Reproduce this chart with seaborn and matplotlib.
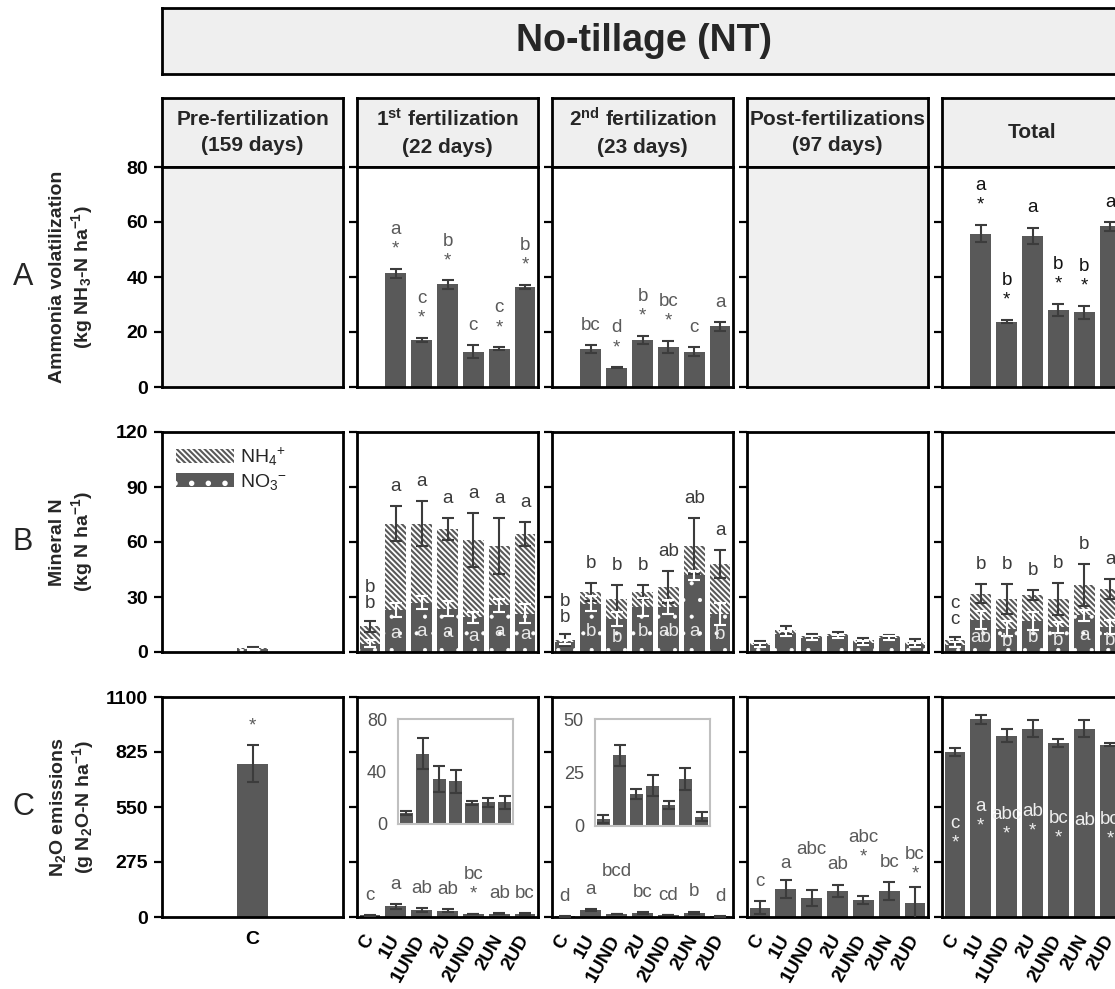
import numpy as np
import pandas as pd
import matplotlib
matplotlib.use("Agg")
import matplotlib.pyplot as plt
from matplotlib.patches import Patch
import seaborn as sns

# ---------------- data ----------------
treatments = ["C", "1U", "1UND", "2U", "2UND", "2UN", "2UD"]
pre_treatments = ["C"]
period_titles = ["Pre-fertilization\n(159 days)", "1$^{st}$ fertilization\n(22 days)",
                 "2$^{nd}$ fertilization\n(23 days)", "Post-fertilizations\n(97 days)", "Total"]
main_title = "No-tillage (NT)"
row_letters = ["A", "B", "C"]
row_ylabels = ["Ammonia volatilization\n(kg NH$_3$-N ha$^{-1}$)",
               "Mineral N\n(kg N ha$^{-1}$)",
               "N$_2$O emissions\n(g N$_2$O-N ha$^{-1}$)"]
yticks_A = [0, 20, 40, 60, 80]
yticks_B = [0, 30, 60, 90, 120]
yticks_C = [0, 275, 550, 825, 1100]
legend_labels = ["NH$_4$$^{+}$", "NO$_3$$^{\u2212}$"]

# Row A : ammonia volatilization (kg NH3-N/ha); NaN = no bar
nh3_fert1 = [np.nan, 41.4, 17.2, 37.3, 12.9, 13.9, 36.5]
nh3_fert1_se = [0, 1.6, 0.7, 1.5, 2.3, 0.6, 0.7]
nh3_fert1_lab = ["", "a\n*", "c\n*", "b\n*", "c", "c\n*", "b\n*"]
nh3_fert2 = [np.nan, 13.9, 7.0, 17.2, 14.6, 12.9, 22.1]
nh3_fert2_se = [0, 1.4, 0.2, 1.5, 2.2, 1.5, 1.6]
nh3_fert2_lab = ["", "bc", "d\n*", "b\n*", "bc\n*", "c", "a"]
nh3_total = [np.nan, 55.8, 23.8, 55.0, 28.0, 27.2, 58.4]
nh3_total_se = [0, 3.2, 0.6, 3.0, 2.3, 2.4, 1.5]
nh3_total_lab = ["", "a\n*", "b\n*", "a", "b\n*", "b\n*", "a"]

# Row B : mineral N (kg N/ha) -- total (NH4+ + NO3-) and NO3- part
minn_pre_tot = [2.2]
minn_pre_tot_se = [0.4]
minn_pre_no3 = [1.6]
minn_pre_no3_se = [0.3]

minn_f1_tot = [14.0, 70.0, 70.0, 67.3, 61.0, 58.0, 64.5]
minn_f1_tot_se = [3.0, 9.5, 12.4, 6.0, 14.8, 15.3, 6.5]
minn_f1_no3 = [4.5, 23.0, 27.0, 23.6, 19.0, 25.5, 21.0]
minn_f1_no3_se = [2.0, 4.0, 3.5, 4.0, 3.0, 3.5, 5.0]
minn_f1_lab_tot = ["b", "a", "a", "a", "a", "a", "a"]
minn_f1_lab_no3 = ["b", "a", "a", "a", "a", "a", "a"]

minn_f2_tot = [6.4, 32.7, 29.0, 32.7, 35.5, 58.0, 48.0]
minn_f2_tot_se = [3.2, 4.9, 7.4, 3.7, 8.5, 15.3, 7.5]
minn_f2_no3 = [5.5, 26.4, 18.0, 24.5, 24.5, 41.8, 21.0]
minn_f2_no3_se = [1.0, 4.0, 4.0, 5.0, 4.0, 2.5, 6.0]
minn_f2_lab_tot = ["b", "b", "b", "b", "ab", "ab", "a"]
minn_f2_lab_no3 = ["b", "b", "b", "b", "ab", "a", "b"]

minn_post_tot = [5.0, 11.8, 9.0, 10.0, 6.4, 8.5, 5.5]
minn_post_tot_se = [1.0, 2.2, 1.0, 1.0, 1.5, 1.0, 1.5]
minn_post_no3 = [4.0, 10.0, 7.5, 8.5, 5.0, 7.5, 4.0]
minn_post_no3_se = [1.0, 1.5, 1.0, 1.0, 1.0, 1.0, 1.0]

minn_tot_tot = [6.4, 31.8, 29.0, 31.0, 29.0, 36.4, 34.5]
minn_tot_tot_se = [2.0, 5.1, 8.0, 2.6, 8.6, 11.4, 5.5]
minn_tot_no3 = [4.0, 17.3, 12.7, 17.0, 13.6, 20.0, 13.6]
minn_tot_no3_se = [1.5, 5.0, 4.0, 5.0, 3.0, 3.0, 4.0]
minn_tot_lab_tot = ["c", "b", "b", "b", "b", "b", "a"]
minn_tot_lab_no3 = ["c", "ab", "b", "b", "b", "a", "b"]

# Row C : N2O emissions (g N2O-N/ha)
n2o_pre = [767]
n2o_pre_se = [91]
n2o_pre_lab = ["*"]
n2o_f1 = [8.4, 53.6, 34.3, 32.5, 16.0, 16.5, 16.5]
n2o_f1_se = [1.5, 12.0, 10.0, 9.0, 1.5, 3.3, 5.0]
n2o_f1_lab = ["c", "a", "ab", "ab", "bc\n*", "ab", "bc"]
n2o_f2 = [3.3, 33.0, 15.0, 18.9, 9.9, 22.0, 4.4]
n2o_f2_se = [1.9, 5.0, 2.3, 5.0, 1.9, 5.2, 2.0]
n2o_f2_lab = ["d", "a", "bcd", "bc", "cd", "b", "d"]
n2o_post = [46.7, 140, 95, 130, 83, 130, 70]
n2o_post_se = [33, 43, 42, 32, 20, 45, 80]
n2o_post_lab = ["c", "a", "abc", "ab", "abc\n*", "bc", "bc\n*"]
n2o_total = [825, 988, 907, 942, 872, 942, 862]
n2o_total_se = [22, 22, 31, 41, 20, 41, 8]
n2o_total_lab = ["c\n*", "a\n*", "abc\n*", "ab\n*", "bc\n*", "ab", "bc\n*"]
inset_ticks_f1 = [0, 40, 80]
inset_ticks_f2 = [0, 25, 50]

# ---------------- style ----------------
BAR = "#595959"
ERR = "#3c3c3c"
LAB = "#5a5a5a"
HEAD = "#efefef"
HATCH_NH4 = "\\" * 6
FS_LAB = 13.5

sns.set_theme(style="white")
plt.rcParams["font.family"] = ["Liberation Sans", "DejaVu Sans"]
plt.rcParams["mathtext.default"] = "regular"
plt.rcParams["hatch.linewidth"] = 1.5

W, H = 1115, 989
fig = plt.figure(figsize=(W / 100, H / 100), dpi=100)
col_left = [162, 357, 552, 747, 942]
col_w = 181
rows_px = [(167, 387), (432, 652), (697, 917)]


def add_ax(x0, y0, w, h):
    return fig.add_axes([x0 / W, 1 - (y0 + h) / H, w / W, h / H])


def style(ax, yticks, first, cats, xlab=False, rotate=True):
    ax.set_ylim(yticks[0], yticks[-1])
    ax.set_yticks(yticks)
    ax.set_xlim(-0.5, len(cats) - 0.5)
    for s in ax.spines.values():
        s.set_visible(True)
        s.set_linewidth(2)
        s.set_color("black")
    ax.tick_params(axis="y", left=True, direction="out", length=6, width=1.6,
                   colors="black", labelsize=14, pad=4, labelleft=first)
    ax.tick_params(axis="x", length=0, bottom=False)
    ax.set_xlabel("")
    ax.set_ylabel("")
    ax.set_xticks(range(len(cats)))
    if xlab:
        if rotate:
            ax.set_xticklabels(cats, rotation=60, ha="right", va="center",
                               rotation_mode="anchor", fontsize=13.5)
            ax.tick_params(axis="x", pad=14)
        else:
            ax.set_xticklabels(cats, fontsize=14)
            ax.tick_params(axis="x", pad=10)
        for t in ax.get_xticklabels():
            t.set_fontweight("bold")
            t.set_color("black")
    else:
        ax.set_xticklabels([])
    for t in ax.get_yticklabels():
        t.set_fontweight("bold")


def simple_bars(ax, cats, vals, errs, width=0.8):
    df = pd.DataFrame({"cat": cats, "val": vals, "err": errs}).dropna()
    sns.barplot(data=df, x="cat", y="val", order=cats, color=BAR, saturation=1,
                width=width, errorbar=None, ax=ax, linewidth=0)
    idx = [cats.index(c) for c in df["cat"]]
    ax.errorbar(idx, df["val"], yerr=df["err"], fmt="none", ecolor=ERR,
                elinewidth=1.5, capsize=4.5, capthick=1.5, zorder=5)
    return idx


def top_labels(ax, cats, vals, errs, labels, color=LAB, lifts=None):
    for i, lab in enumerate(labels):
        if not lab or np.isnan(vals[i]):
            continue
        lift = 0 if lifts is None else lifts[i]
        ax.annotate(lab, (i, vals[i] + errs[i]), xytext=(0, 8 + lift),
                    textcoords="offset points", ha="center", va="bottom",
                    fontsize=FS_LAB, color=color, linespacing=1.2,
                    annotation_clip=False)


def stacked(ax, cats, tot, tot_se, no3, no3_se, width=0.8):
    df = pd.DataFrame({"cat": cats, "tot": tot, "no3": no3})
    sns.barplot(data=df, x="cat", y="tot", order=cats, color="white", saturation=1,
                width=width, errorbar=None, ax=ax)
    for p in ax.containers[-1]:
        p.set_facecolor("white")
        p.set_edgecolor(BAR)
        p.set_linewidth(0)
        p.set_hatch(HATCH_NH4)
    sns.barplot(data=df, x="cat", y="no3", order=cats, color=BAR, saturation=1,
                width=width, errorbar=None, ax=ax)
    for p in ax.containers[-1]:
        p.set_facecolor(BAR)
        p.set_edgecolor("white")
        p.set_linewidth(0)
        p.set_hatch(".")
        if hasattr(p, "set_hatch_linewidth"):
            p.set_hatch_linewidth(0.5)
    x = np.arange(len(cats))
    ax.errorbar(x, tot, yerr=tot_se, fmt="none", ecolor=ERR, elinewidth=1.5,
                capsize=4.5, capthick=1.5, zorder=5)
    ax.errorbar(x, no3, yerr=no3_se, fmt="none", ecolor="white", elinewidth=1.5,
                capsize=4.5, capthick=1.5, zorder=5)


def stacked_labels(ax, tot, tot_se, no3, lab_tot, lab_no3):
    for i in range(len(tot)):
        if i == 0:
            txt = lab_tot[i] + "\n" + lab_no3[i]
            ax.annotate(txt, (i, tot[i] + tot_se[i]), xytext=(0, 6),
                        textcoords="offset points", ha="center", va="bottom",
                        fontsize=FS_LAB, color="#3a3a3a", linespacing=0.95)
        else:
            ax.annotate(lab_tot[i], (i, tot[i] + tot_se[i]), xytext=(0, 8),
                        textcoords="offset points", ha="center", va="bottom",
                        fontsize=FS_LAB, color="#3a3a3a")
            ax.text(i, min(no3[i] * 0.45, 11), lab_no3[i], ha="center", va="center",
                    fontsize=FS_LAB, color="#e8e8e8", zorder=6)


# ---------------- header boxes ----------------
hax = add_ax(162, 8, 975, 66)
hax.set_facecolor(HEAD)
hax.set_xticks([]); hax.set_yticks([])
for s in hax.spines.values():
    s.set_linewidth(2); s.set_color("black")
hax.text(0.494, 0.5, main_title, transform=hax.transAxes, ha="center", va="center",
         fontsize=27, fontweight="bold")

for c, title in enumerate(period_titles):
    a = add_ax(col_left[c], 98, col_w, 69)
    a.set_facecolor(HEAD)
    a.set_xticks([]); a.set_yticks([])
    for s in a.spines.values():
        s.set_linewidth(2); s.set_color("black")
    a.text(0.5, 0.5, title, transform=a.transAxes, ha="center", va="center",
           fontsize=15, fontweight="bold", linespacing=1.5)

axes = [[add_ax(col_left[c], t, col_w, b - t) for c in range(5)] for (t, b) in rows_px]

# ---------------- Row A ----------------
rA = axes[0]
for c in (0, 3):
    rA[c].set_facecolor("#f0f0f0")
style(rA[0], yticks_A, True, pre_treatments)
style(rA[3], yticks_A, False, treatments)
for c, vals, se, lab, col in [(1, nh3_fert1, nh3_fert1_se, nh3_fert1_lab, LAB),
                              (2, nh3_fert2, nh3_fert2_se, nh3_fert2_lab, LAB),
                              (4, nh3_total, nh3_total_se, nh3_total_lab, "#111111")]:
    ax = rA[c]
    simple_bars(ax, treatments, vals, se)
    style(ax, yticks_A, False, treatments)
    top_labels(ax, treatments, vals, se, lab, color=col)

# ---------------- Row B ----------------
rB = axes[1]
stacked(rB[0], pre_treatments, minn_pre_tot, minn_pre_tot_se, minn_pre_no3,
        minn_pre_no3_se, width=0.166)
style(rB[0], yticks_B, True, pre_treatments)
handles = [Patch(facecolor="white", edgecolor=BAR, linewidth=0, hatch=HATCH_NH4),
           Patch(facecolor=BAR, edgecolor="white", linewidth=0, hatch=".")]
rB[0].legend(handles, legend_labels, loc="upper left", frameon=False, fontsize=14,
             handlelength=3.0, handleheight=0.75, handletextpad=0.3,
             labelspacing=0.2, borderaxespad=0.3, bbox_to_anchor=(0.0, 1.0))
for c, tot, tse, no3, nse, lt, ln in [
        (1, minn_f1_tot, minn_f1_tot_se, minn_f1_no3, minn_f1_no3_se, minn_f1_lab_tot, minn_f1_lab_no3),
        (2, minn_f2_tot, minn_f2_tot_se, minn_f2_no3, minn_f2_no3_se, minn_f2_lab_tot, minn_f2_lab_no3),
        (3, minn_post_tot, minn_post_tot_se, minn_post_no3, minn_post_no3_se, None, None),
        (4, minn_tot_tot, minn_tot_tot_se, minn_tot_no3, minn_tot_no3_se, minn_tot_lab_tot, minn_tot_lab_no3)]:
    ax = rB[c]
    stacked(ax, treatments, tot, tse, no3, nse)
    style(ax, yticks_B, False, treatments)
    if lt is not None:
        stacked_labels(ax, tot, tse, no3, lt, ln)

# ---------------- Row C ----------------
rC = axes[2]
simple_bars(rC[0], pre_treatments, n2o_pre, n2o_pre_se, width=0.166)
style(rC[0], yticks_C, True, pre_treatments, xlab=True, rotate=False)
top_labels(rC[0], pre_treatments, n2o_pre, n2o_pre_se, n2o_pre_lab)

label_lift_f2 = [0, 0, 16, 0, 0, 0, 0]
label_lift_post = [0, -2, 15, 0, 14, 0, -5]
for c, vals, se, lab, lift in [(1, n2o_f1, n2o_f1_se, n2o_f1_lab, None),
                               (2, n2o_f2, n2o_f2_se, n2o_f2_lab, label_lift_f2),
                               (3, n2o_post, n2o_post_se, n2o_post_lab, label_lift_post)]:
    ax = rC[c]
    simple_bars(ax, treatments, vals, se)
    style(ax, yticks_C, False, treatments, xlab=True)
    top_labels(ax, treatments, vals, se, lab, lifts=lift)

ax = rC[4]
simple_bars(ax, treatments, n2o_total, n2o_total_se)
style(ax, yticks_C, False, treatments, xlab=True)
for i, lab in enumerate(n2o_total_lab):
    ax.text(i, n2o_total[i] * 0.51, lab, ha="center", va="center", fontsize=FS_LAB,
            color="#eeeeee", linespacing=1.2, zorder=6)

# insets
for c, vals, se, ticks, (x0, y0, w, h) in [
        (1, n2o_f1, n2o_f1_se, inset_ticks_f1, (398, 719, 115, 105)),
        (2, n2o_f2, n2o_f2_se, inset_ticks_f2, (595, 719, 115, 107))]:
    ia = add_ax(x0, y0, w, h)
    ia.set_facecolor("white")
    simple_bars(ia, treatments, vals, se)
    ia.set_xlim(-0.5, 6.5)
    ia.set_ylim(ticks[0], ticks[-1])
    ia.set_yticks(ticks)
    ia.set_xticks([])
    ia.set_xlabel(""); ia.set_ylabel("")
    for s in ia.spines.values():
        s.set_visible(True); s.set_linewidth(1.5); s.set_color("#c0c0c0")
    ia.tick_params(axis="y", left=False, length=0, labelsize=13, colors="#505050", pad=8)

# ---------------- row labels ----------------
for r, (t, b) in enumerate(rows_px):
    yc = 1 - ((t + b) / 2) / H
    fig.text(72 / W, yc, row_ylabels[r], rotation=90, ha="center", va="center",
             fontsize=14, fontweight="bold", linespacing=1.15, multialignment="center")
    fig.text(23 / W, yc, row_letters[r], ha="center", va="center", fontsize=22)

fig.savefig("out.png", dpi=100)
